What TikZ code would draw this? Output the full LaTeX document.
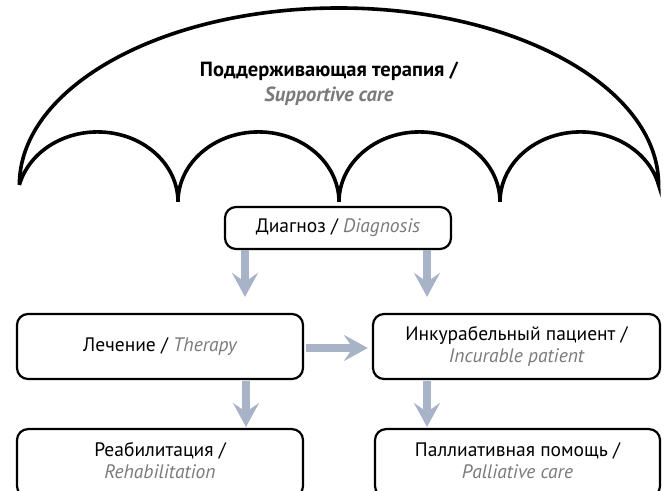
\documentclass[tikz,border=0pt]{standalone}
\usepackage{fontspec}
\setmainfont{PT Sans}
\usetikzlibrary{arrows.meta,calc}
\definecolor{arrowgray}{HTML}{A8B3C7}
\definecolor{engray}{HTML}{7A7A7A}
\tikzset{
  boxfont/.style={font=\fontsize{19.5bp}{22bp}\selectfont},
  box/.style={draw=black, line width=2.2bp, rounded corners=11bp, fill=white,
    align=center, boxfont, inner sep=0pt},
  bigarrow/.style={draw=arrowgray, line width=8bp,
    -{Stealth[length=24bp, width=26bp, inset=9bp]}},
  umbrella/.style={draw=black, line width=3.6bp}
}
\newcommand{\eng}[1]{{\color{engray}\itshape #1}}
\begin{document}
\begin{tikzpicture}[x=1bp, y=1bp]
\useasboundingbox (0,0) rectangle (664,491);
\clip (0,0) rectangle (664,491);
% umbrella
\draw[umbrella] (19.4,306) arc[start angle=180, end angle=0, x radius=319.6, y radius=177]
  arc[start angle=14, end angle=180, x radius=80.5, y radius=70]
  arc[start angle=0, end angle=180, x radius=80.5, y radius=70]
  arc[start angle=0, end angle=180, x radius=80.5, y radius=70]
  arc[start angle=0, end angle=166, x radius=80.5, y radius=70];
\node[font=\fontsize{20.5bp}{25bp}\selectfont\bfseries, align=center] (title) at (329,407)
  {Поддерживающая терапия /\\{\color{engray}\itshape Supportive care}};
% boxes
\node[box, minimum width=226bp, minimum height=42bp] (diag) at (338,263)
  {Диагноз / \eng{Diagnosis}};
\node[box, minimum width=286bp, minimum height=65bp] (ther) at (160,144.5)
  {Лечение / \eng{Therapy}};
\node[box, minimum width=287bp, minimum height=65bp] (incur) at (516.5,144.5)
  {Инкурабельный пациент /\\\eng{Incurable patient}};
\node[box, minimum width=286bp, minimum height=68bp, anchor=north] (rehab) at (160,63)
  {};
\node[box, minimum width=285bp, minimum height=68bp, anchor=north] (pall) at (517.5,63)
  {};
\node[align=center, boxfont, anchor=north] (rehabt) at (160,52)
  {Реабилитация /\\\eng{Rehabilitation}};
\node[align=center, boxfont, anchor=north] (pallt) at (517.5,52)
  {Паллиативная помощь /\\\eng{Palliative care}};
% arrows
\coordinate (c1) at (245,0);
\coordinate (c2) at (427,0);
\coordinate (c3) at (246,0);
\draw[bigarrow, shorten >=16bp] (c1 |- diag.south) -- (c1 |- ther.north);
\draw[bigarrow, shorten >=16bp] (c2 |- diag.south) -- (c2 |- incur.north);
\draw[bigarrow, shorten <=1bp, shorten >=1bp] (c3 |- ther.south) -- (c3 |- rehab.north);
\draw[bigarrow, shorten <=1bp, shorten >=1bp] (c2 |- incur.south) -- (c2 |- pall.north);
\draw[bigarrow, shorten <=2bp, shorten >=4bp] (ther.east |- 0,143) -- (incur.west |- 0,143);
\end{tikzpicture}
\end{document}
